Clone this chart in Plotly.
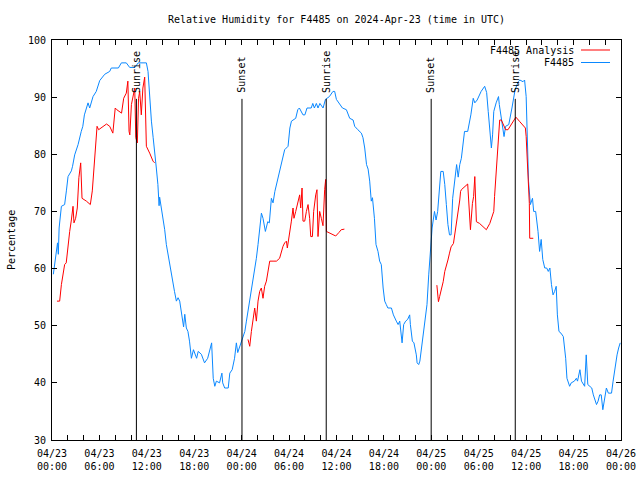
import pandas as pd
import plotly.graph_objects as go

BASE = pd.Timestamp("2024-04-23 00:00")

# F4485 observations: hours since 2024-04-23 00:00 UTC, relative humidity (%)
obs_hours = [0.17, 0.45, 0.7, 0.8, 0.9, 1.19, 1.6, 1.82, 2.03, 2.45, 2.6, 2.87, 3.3, 3.7, 3.9, 4.1, 4.56, 4.77,
             5.19, 5.6, 6.04, 6.67, 7.3, 7.5, 8.4, 8.78, 9.4, 9.83, 10.5, 10.9, 11.94, 12.15, 12.36, 12.58, 12.8,
             13.0, 13.2, 13.4, 13.55, 13.62, 13.84, 14.05, 14.26, 14.47, 14.68, 14.9, 15.1, 15.3, 15.5, 15.74,
             15.95, 16.16, 16.37, 16.58, 16.65, 16.8, 17.0, 17.2, 17.4, 17.64, 17.9, 18.3, 18.5, 18.9, 19.3, 19.7,
             20.2, 20.4, 20.6, 20.8, 21.2, 21.5, 21.6, 21.85, 22.3, 22.5, 22.8, 23.1, 23.33, 23.5, 23.96, 24.4,
             24.6, 24.8, 25.0, 25.2, 25.4, 25.65, 25.86, 26.07, 26.28, 26.5, 26.7, 27.0, 27.3, 27.5, 27.76, 27.97,
             28.2, 28.5, 28.8, 29.0, 29.44, 29.87, 30.1, 30.3, 30.84, 31.1, 31.3, 31.76, 32.0, 32.27, 32.8, 33.0,
             33.2, 33.45, 33.66, 33.9, 34.3, 34.6, 35.1, 35.55, 35.77, 35.99, 36.4, 36.75, 37.25, 37.67, 38.1,
             38.3, 38.7, 39.15, 39.35, 39.57, 39.8, 40.0, 40.2, 40.4, 40.55, 40.8, 41.0, 41.25, 41.46, 41.67,
             41.9, 42.1, 42.3, 42.5, 42.95, 43.2, 43.57, 43.8, 44.0, 44.1, 44.3, 44.5, 44.75, 45.0, 45.26, 45.35,
             45.6, 45.8, 46.1, 46.2, 46.4, 46.55, 46.87, 47.15, 47.45, 47.67, 47.8, 48.0, 48.1, 48.4, 48.6, 48.8,
             49.1, 49.2, 49.5, 49.7, 49.9, 50.1, 50.3, 50.5, 50.7, 50.9, 51.2, 51.4, 51.6, 51.8, 52.0, 52.2, 52.6,
             53.0, 53.3, 53.5, 53.8, 54.3, 54.75, 55.0, 55.2, 55.4, 55.6, 55.75, 55.9, 56.2, 56.5, 56.6, 56.9,
             57.1, 57.2, 57.4, 57.8, 58.2, 58.4, 58.6, 59.0, 59.2, 59.6, 59.8, 60.0, 60.1, 60.3, 60.53, 60.8,
             60.95, 61.2, 61.5, 61.7, 61.9, 62.1, 62.35, 62.6, 62.8, 63.0, 63.2, 63.4, 63.6, 63.8, 63.95, 64.15,
             64.4, 64.7, 65.0, 65.16, 65.5, 65.7, 66.1, 66.35, 66.5, 66.8, 67.0, 67.4, 67.6, 67.8, 68.3, 68.5,
             68.9, 69.1, 69.3, 69.5, 69.7, 69.9, 70.15, 70.4, 70.8, 71.0, 71.3, 71.5, 71.7, 71.9]
obs_rh = [59.0, 62.4, 64.5, 62.5, 67.1, 70.9, 71.2, 73.6, 76.1, 77.1, 77.9, 79.9, 81.7, 84.0, 84.9, 86.9, 89.0, 88.1,
          90.1, 91.0, 92.9, 94.0, 94.5, 95.1, 95.1, 96.0, 96.0, 95.2, 95.2, 96.0, 96.0, 94.5, 89.8, 85.8, 82.9,
          79.6, 77.6, 74.7, 71.0, 72.5, 70.6, 68.8, 66.8, 64.2, 62.4, 60.7, 59.5, 57.8, 56.0, 54.3,
          54.9, 54.3, 52.5, 50.8, 49.8, 52.0, 49.6, 49.0, 47.3, 44.3, 45.8, 44.3, 45.5, 45.0, 43.5, 44.3,
          47.0, 40.8, 39.4, 40.3, 40.0, 41.7, 40.0, 39.1, 39.1, 41.7, 42.3, 44.3, 47.0, 45.3, 47.3, 49.0,
          50.8, 52.5, 54.3, 56.0, 57.8, 59.5, 61.8, 64.2, 67.1, 69.7, 68.8, 66.5, 68.2, 68.0, 72.3, 71.5,
          73.5, 75.3, 77.0, 78.5, 80.8, 81.4, 84.6, 85.8, 86.3, 87.8, 88.1, 86.9, 86.9, 88.1, 88.1, 88.9,
          88.1, 88.9, 88.1, 88.9, 88.1, 89.6, 90.1, 91.0, 91.0, 89.6, 88.9, 88.1, 87.8, 86.3, 86.0,
          84.9, 84.3, 83.7, 82.9, 81.1, 78.2, 77.4, 75.3, 71.8, 72.4, 68.8, 64.2, 63.0, 61.3, 60.7,
          56.6, 54.3, 53.7, 53.1, 53.1, 51.9, 50.8, 50.2, 50.8, 49.0, 47.0, 50.2, 50.8, 51.1, 51.9, 50.2,
          47.3, 47.0, 44.9, 43.5, 43.2, 43.8, 47.0, 50.2, 53.7, 58.9, 61.8, 64.2, 67.1, 70.0, 68.5, 70.0,
          76.4, 77.0, 77.0, 74.7, 71.2, 67.7, 65.9, 65.9, 72.3, 75.0, 78.2, 76.0, 78.2, 79.3, 81.7, 84.0, 84.0,
          86.9, 89.8, 89.0, 89.5, 91.0, 91.9, 90.8, 87.5, 84.6, 81.1, 83.4, 87.5, 89.0, 90.1, 88.7, 85.8,
          83.4, 83.1, 84.9, 85.2, 88.1, 90.1, 91.3, 92.7, 93.0, 92.7, 93.0, 90.1, 84.0, 75.3, 71.2, 72.3,
          70.0, 70.0, 66.5, 63.0, 65.1, 61.6, 60.1, 60.1, 59.5, 60.1, 57.2, 55.4, 56.0, 56.9, 51.9, 49.0,
          48.7, 48.1, 44.3, 40.8, 39.4, 40.0, 40.3, 40.8, 40.3, 42.3, 40.3, 39.4, 44.9, 39.7, 39.1, 37.9,
          36.2, 36.8, 37.9, 37.9, 35.3, 36.8, 39.1, 38.2, 38.2, 40.3, 43.2, 44.9, 46.1, 47.0]

# F4485 Analysis (None = gap)
ana_hours = [0.63, 0.97, 1.19, 1.4, 1.6, 1.8, 2.03, 2.24, 2.45, 2.66, 2.78, 2.99, 3.2, 3.4, 3.63, 3.7, 3.8, 4.35,
             4.85, 5.1, 5.28, 5.5, 5.7, 5.9, 6.47, 6.9, 7.3, 7.7, 8.0, 8.2, 8.8, 9.07, 9.4, 9.6, 9.75, 9.85, 10.05,
             10.2, 10.47, 10.6, 10.8, 10.95, 11.1, 11.3, 11.5, 11.73, 11.85, 11.94, 12.36, 12.78, 12.99,
             None,
             24.8, 25.02, 25.23, 25.44, 25.65, 25.86, 26.07, 26.28, 26.49, 26.7, 26.91, 27.13, 27.33, 27.55,
             27.97, 28.4, 28.8, 29.0, 29.23, 29.44, 29.66, 29.78, 29.99, 30.08, 30.29, 30.5, 30.62, 30.84,
             31.13, 31.34, 31.47, 31.64, 31.76, 31.98, 32.19, 32.4, 32.6, 32.74, 32.95, 33.11, 33.37, 33.53,
             33.66, 33.87, 34.08, 34.29, 34.5, 34.63, 34.72, 35.14, 35.64, 35.9, 36.3, 36.6, 37.0,
             None,
             48.7, 48.8, 48.9, 49.05, 49.3, 49.5, 49.7, 49.9, 50.1, 50.3, 50.5, 50.8, 51.0, 51.2, 51.4, 51.6,
             51.7, 51.8, 52.6, 52.8, 52.95, 53.2, 53.35, 53.5, 53.7, 54.1, 54.75, 54.96, 55.4, 55.9, 56.0,
             56.2, 56.4, 56.65, 56.86, 57.15, 57.4, 57.7, 58.3, 58.7, 59.2, 59.7, 59.9, 60.0, 60.15, 60.36,
             60.4, 60.45, 60.9]
ana_rh = [54.3, 54.3, 57.2, 59.2, 60.7, 61.0, 64.2, 66.5, 68.5, 70.9, 68.0, 68.8, 70.6, 75.9, 78.5, 75.3, 72.3, 71.8,
          71.2, 73.6, 77.0, 81.1, 84.9, 84.3, 84.9, 85.3, 84.9, 83.7, 88.1, 87.8, 87.2, 89.8, 90.7, 92.8, 84.0, 83.4,
          88.7, 89.8, 91.6, 82.9, 82.0, 89.8, 91.0, 86.9, 91.6, 93.5, 88.7, 81.4, 80.2, 78.8, 78.5,
          None,
          47.6, 46.4, 49.0, 51.3, 53.1, 50.8, 54.3, 56.0, 56.6, 54.8, 56.9, 57.8, 59.5, 61.3,
          61.3, 61.3, 61.8, 63.0, 63.9, 64.5, 64.8, 63.6, 65.3, 66.8, 68.3, 70.6, 68.8, 70.0,
          71.8, 72.9, 70.6, 74.1, 68.3, 68.3, 70.0, 71.2, 68.8, 65.6, 65.6, 70.0, 72.9, 73.8,
          65.6, 70.0, 68.8, 67.5, 73.8, 75.6, 66.5, 66.2, 65.9, 65.7, 66.3, 66.8, 66.9,
          None,
          57.1, 55.1, 54.2, 55.1, 56.5, 57.7, 59.5, 60.3, 61.5, 62.7, 63.8, 64.4, 66.2, 67.9, 69.7, 72.0,
          73.5, 73.8, 74.8, 70.3, 66.8, 71.4, 72.6, 76.1, 68.2, 67.9, 67.0, 66.8, 67.9, 70.0, 72.6,
          76.7, 81.9, 86.0, 86.0, 84.9, 84.3, 84.3, 85.7, 86.5, 85.7, 84.9, 84.6, 83.1, 79.0, 75.0,
          71.4, 65.3, 65.3]

# Sun events (hours since start)
event_names = ["Sunrise", "Sunset", "Sunrise", "Sunset", "Sunrise"]
event_hours = [10.68, 24.04, 34.7, 47.98, 58.62]

# Axis ticks
tick_hours = [0, 6, 12, 18, 24, 30, 36, 42, 48, 54, 60, 66, 72]
tick_labels = ["04/23<br>00:00", "04/23<br>06:00", "04/23<br>12:00", "04/23<br>18:00",
               "04/24<br>00:00", "04/24<br>06:00", "04/24<br>12:00", "04/24<br>18:00",
               "04/25<br>00:00", "04/25<br>06:00", "04/25<br>12:00", "04/25<br>18:00",
               "04/26<br>00:00"]
y_ticks = [30, 40, 50, 60, 70, 80, 90, 100]

series_names = ["F4485 Analysis", "F4485"]
series_colors = ["#ff0000", "#0a88ff"]


def to_time(h):
    return None if h is None else BASE + pd.Timedelta(hours=h)


FONT = "DejaVu Sans Mono"

fig = go.Figure()
fig.add_trace(go.Scatter(x=[to_time(h) for h in obs_hours], y=obs_rh, mode="lines",
                         name=series_names[1], line=dict(color=series_colors[1], width=1)))
fig.add_trace(go.Scatter(x=[to_time(h) for h in ana_hours], y=ana_rh, mode="lines",
                         name=series_names[0], connectgaps=False,
                         line=dict(color=series_colors[0], width=1)))

shapes = []
annotations = []
for name, h in zip(event_names, event_hours):
    t = to_time(h)
    shapes.append(dict(type="line", xref="x", yref="y", x0=t, x1=t, y0=30, y1=89.7,
                       line=dict(color="black", width=1), layer="above"))
    annotations.append(dict(x=t, y=90.6, xref="x", yref="y", text=name, textangle=-90,
                            showarrow=False, xanchor="center", yanchor="bottom", borderpad=0,
                            font=dict(family=FONT, size=10, color="black")))

# legend (gnuplot style: text left of sample)
L, R, T, B = 52, 621, 40, 440
def px(xp):
    return (xp - L) / (R - L)
def py(yp):
    return (B - yp) / (B - T)

for i, (nm, col) in enumerate(zip(series_names, series_colors)):
    yy = 50 + 12.5 * i
    annotations.append(dict(x=px(575), y=py(yy), xref="paper", yref="paper", text=nm,
                            showarrow=False, xanchor="right", yanchor="middle", borderpad=0,
                            font=dict(family=FONT, size=10, color="black")))
    shapes.append(dict(type="line", xref="paper", yref="paper", x0=px(581), x1=px(610),
                       y0=py(yy), y1=py(yy), line=dict(color=col, width=1)))

annotations.append(dict(x=px(11), y=py(240), xref="paper", yref="paper", text="Percentage",
                        textangle=-90, showarrow=False, xanchor="center", yanchor="middle",
                        font=dict(family=FONT, size=10, color="black")))

fig.update_layout(
    width=640, height=480, autosize=False,
    margin=dict(l=52, r=19, t=40, b=40, pad=0, autoexpand=False),
    paper_bgcolor="white", plot_bgcolor="white",
    showlegend=False,
    font=dict(family=FONT, size=10, color="black"),
    title=dict(text="Relative Humidity for F4485 on 2024-Apr-23 (time in UTC)",
               x=0.5, xref="paper", y=1 - 19 / 480, yanchor="middle",
               font=dict(family=FONT, size=10, color="black")),
    xaxis=dict(range=[to_time(0), to_time(72)], tickvals=[to_time(h) for h in tick_hours],
               ticktext=tick_labels, ticks="inside", ticklen=5, tickcolor="black",
               showline=True, linecolor="black", linewidth=1, mirror="allticks",
               showgrid=False, zeroline=False, ticklabelstandoff=4,
               minor=dict(dtick=2 * 3600 * 1000, ticks="inside", ticklen=5, tickcolor="black",
                          showgrid=False),
               tickfont=dict(family=FONT, size=10)),
    yaxis=dict(range=[30, 100], tickvals=y_ticks, ticks="inside", ticklen=5, tickcolor="black",
               showline=True, linecolor="black", linewidth=1, mirror="allticks",
               showgrid=False, zeroline=False, ticklabelstandoff=3,
               tickfont=dict(family=FONT, size=10)),
    shapes=shapes, annotations=annotations,
)

fig.write_html("out.html", config={"displayModeBar": False},
               post_script="document.body.style.margin='0';")
